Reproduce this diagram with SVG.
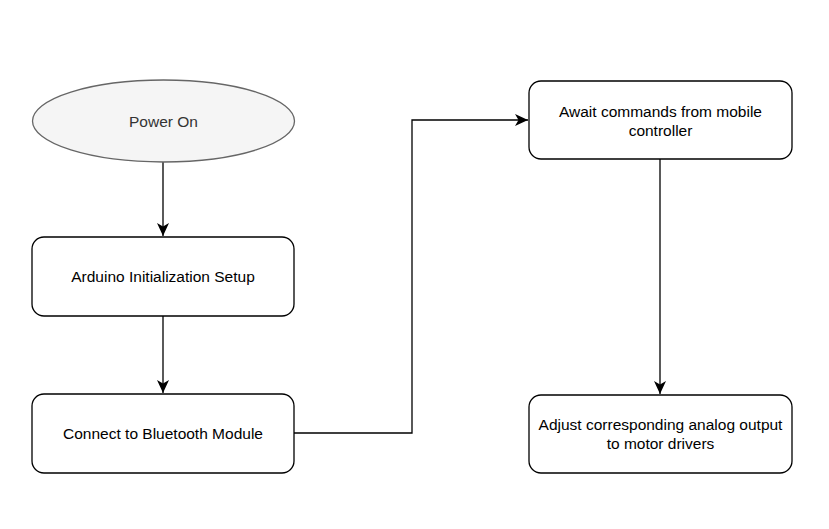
<svg xmlns="http://www.w3.org/2000/svg" width="829" height="529" viewBox="0 0 829 529">
<style>
.box{fill:#ffffff;stroke:#000000;stroke-width:1.3}
.ell{fill:#f5f5f5;stroke:#666666;stroke-width:1.3}
.t{font-family:"Liberation Sans",Arial,Helvetica,sans-serif;font-size:15.5px;fill:#000000;text-anchor:middle}
.tg{fill:#333333}
.edge{fill:none;stroke:#000000;stroke-width:1.3}
</style>
<defs>
<marker id="arr" viewBox="0 0 14 12" refX="13" refY="6" markerWidth="14" markerHeight="12" markerUnits="userSpaceOnUse" orient="auto">
<path d="M0,0 L13,6 L0,12 L3.5,6 Z" fill="#000000"/>
</marker>
</defs>
<rect width="829" height="529" fill="#ffffff"/>
<g id="connectors">
<path class="edge" d="M163,162 L163,236" marker-end="url(#arr)"/>
<path class="edge" d="M163,316 L163,393" marker-end="url(#arr)"/>
<path class="edge" d="M294,433 L412,433 L412,120 L528,120" marker-end="url(#arr)"/>
<path class="edge" d="M660,159 L660,394" marker-end="url(#arr)"/>
</g>
<g id="power-on">
<ellipse class="ell" cx="163.5" cy="121" rx="131" ry="41"/>
<text class="t tg" x="163.5" y="126.5">Power On</text>
</g>
<g id="arduino-init">
<rect class="box" x="32" y="237" width="262" height="79" rx="12" ry="12"/>
<text class="t" x="163" y="282">Arduino Initialization Setup</text>
</g>
<g id="connect-bt">
<rect class="box" x="32" y="394" width="262" height="79" rx="12" ry="12"/>
<text class="t" x="163" y="439">Connect to Bluetooth Module</text>
</g>
<g id="await">
<rect class="box" x="529" y="81" width="263" height="78" rx="12" ry="12"/>
<text class="t" x="660.5" y="117">Await commands from mobile</text>
<text class="t" x="660.5" y="135.5">controller</text>
</g>
<g id="adjust">
<rect class="box" x="529" y="395" width="263" height="78" rx="12" ry="12"/>
<text class="t" x="660.5" y="430">Adjust corresponding analog output</text>
<text class="t" x="660.5" y="449">to motor drivers</text>
</g>
</svg>
